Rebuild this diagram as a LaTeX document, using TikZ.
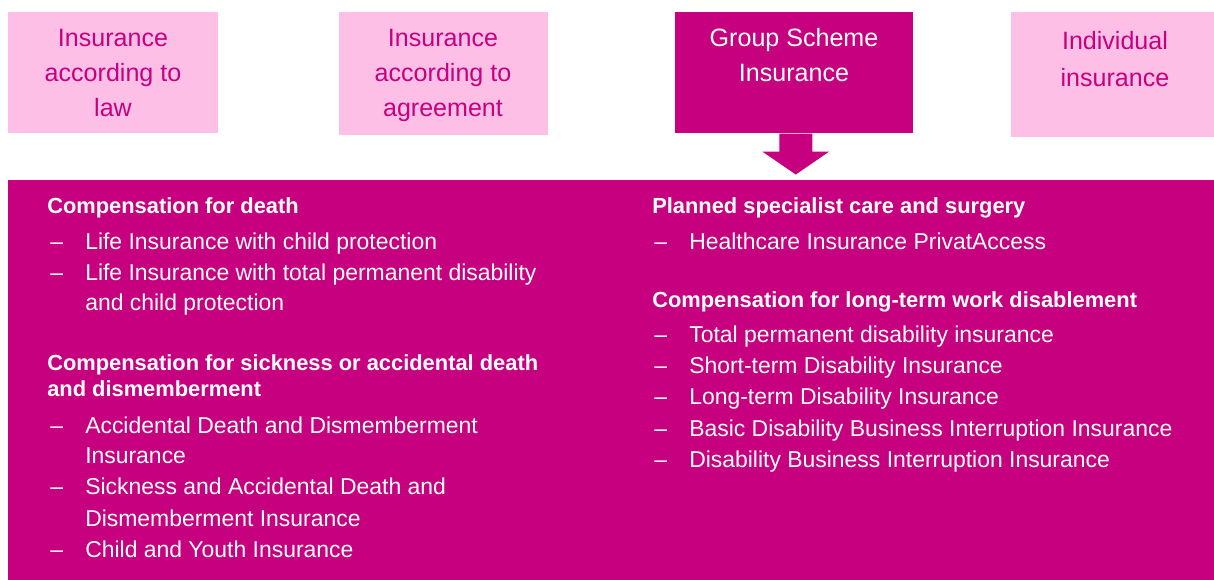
\documentclass[tikz,border=0pt]{standalone}
\usepackage{fontspec}
\setmainfont{Liberation Sans}
\definecolor{grpmagenta}{HTML}{C6007E}
\definecolor{kindpink}{HTML}{FDBFE6}

\tikzset{
  kindbox/.style={rectangle, fill=kindpink, inner sep=0pt, anchor=north west},
  kindtext/.style={text=grpmagenta, inner sep=0pt, anchor=base,
                   font=\fontsize{18.8}{18.8}\selectfont},
  covhead/.style={text=white, inner sep=0pt, anchor=base west,
                  font=\fontsize{16.4}{16.4}\selectfont\bfseries},
  coventry/.style={text=white, inner sep=0pt, anchor=base west,
                   font=\fontsize{17.2}{17.2}\selectfont},
}

\begin{document}
\begin{tikzpicture}[x=0.75pt,y=-0.75pt]
\useasboundingbox (0,0) rectangle (1214,580);

% the four kinds of insurance
\node[kindbox, minimum width=157.5pt, minimum height=90.75pt] (law) at (8,12) {};
\node[kindbox, minimum width=156.75pt, minimum height=92.25pt] (agree) at (339,12) {};
\node[kindbox, fill=grpmagenta, minimum width=178.5pt, minimum height=90.75pt] (group) at (675,12) {};
\node[kindbox, minimum width=152.25pt, minimum height=93.75pt] (indiv) at (1011,12) {};

\foreach \y/\txt [count=\i] in {47/Insurance, 82/according to, 116.5/law}
    \node[kindtext] (law\i) at (113,\y) {\txt};
\foreach \y/\txt [count=\i] in {47/Insurance, 82/according to, 116.5/agreement}
    \node[kindtext] (agree\i) at (443,\y) {\txt};
\foreach \y/\txt [count=\i] in {47/Group Scheme, 82/Insurance}
    \node[kindtext, text=white] (group\i) at (794,\y) {\txt};
\foreach \y/\txt [count=\i] in {50/Individual, 87/insurance}
    \node[kindtext] (indiv\i) at (1115,\y) {\txt};

% what the group scheme covers
\node[kindbox, fill=grpmagenta, minimum width=904.5pt, minimum height=300pt] (cover) at (8,180) {};

\fill[grpmagenta] (group.south) ++(-15,0) -- ++(0,18) -- ++(-17,0) --
      ++(33.5,23) -- ++(33.5,-23) -- ++(-17,0) -- ++(0,-18) -- cycle;

% left column
\node[covhead] (death) at (47,213.5) {Compensation for death};
\node[covhead] (sick1) at (47,370.5) {Compensation for sickness or accidental death};
\node[covhead] (sick2) at (47,396.5) {and dismemberment};

\foreach \y [count=\i] in {250,280.5,433.5,495,557.5}
    \node[coventry] (ldash\i) at (50,\y) {--};
\foreach \y/\txt [count=\i] in {
      250/Life Insurance with child protection,
      280.5/Life Insurance with total permanent disability,
      311/and child protection,
      433.5/Accidental Death and Dismemberment,
      463.5/Insurance,
      495/Sickness and Accidental Death and,
      526.5/Dismemberment Insurance,
      557.5/Child and Youth Insurance}
    \node[coventry] (left\i) at (85,\y) {\txt};

% right column
\node[covhead] (care) at (652,213.5) {Planned specialist care and surgery};
\node[covhead] (work) at (652,307.5) {Compensation for long-term work disablement};

\foreach \y [count=\i] in {250,342.5,373.5,404.5,436.5,467.5}
    \node[coventry] (rdash\i) at (654,\y) {--};
\foreach \y/\txt [count=\i] in {
      250/Healthcare Insurance PrivatAccess,
      342.5/Total permanent disability insurance,
      373.5/Short-term Disability Insurance,
      404.5/Long-term Disability Insurance,
      436.5/Basic Disability Business Interruption Insurance,
      467.5/Disability Business Interruption Insurance}
    \node[coventry] (right\i) at (689,\y) {\txt};
\end{tikzpicture}
\end{document}
